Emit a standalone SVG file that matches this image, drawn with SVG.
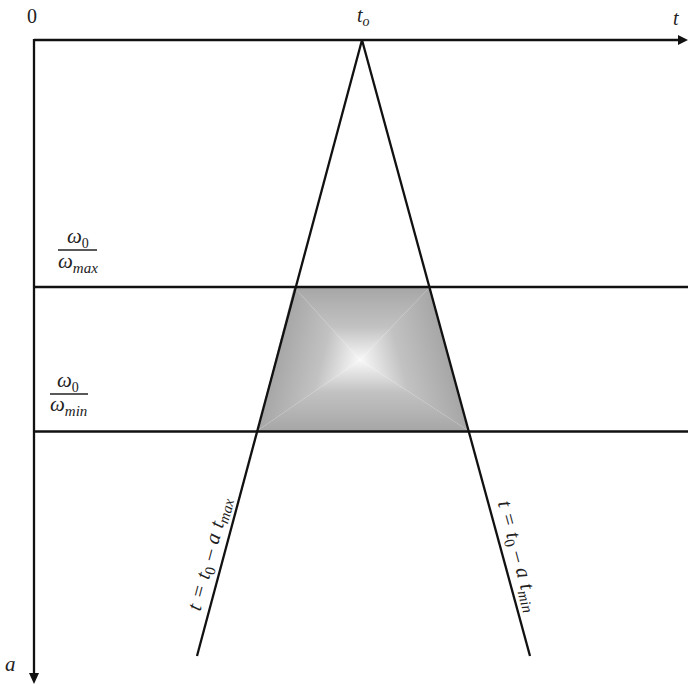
<svg xmlns="http://www.w3.org/2000/svg" width="688" height="684" viewBox="0 0 688 684">
<style>
.ln{stroke:#111;stroke-width:2.3;fill:none}
.tx{font-family:"Liberation Serif","Times New Roman",serif;fill:#222}
.it{font-style:italic}
</style>
<defs>
<linearGradient id="gT" gradientUnits="userSpaceOnUse" x1="360" y1="287" x2="360" y2="360"><stop offset="0" stop-color="#a6a6a6"/><stop offset="0.55" stop-color="#c2c2c2"/><stop offset="1" stop-color="#f8f8f8"/></linearGradient>
<linearGradient id="gB" gradientUnits="userSpaceOnUse" x1="360" y1="431" x2="360" y2="360"><stop offset="0" stop-color="#a6a6a6"/><stop offset="0.55" stop-color="#c2c2c2"/><stop offset="1" stop-color="#f8f8f8"/></linearGradient>
<linearGradient id="gL" gradientUnits="userSpaceOnUse" x1="280.5" y1="339.6" x2="360" y2="360"><stop offset="0" stop-color="#a6a6a6"/><stop offset="0.55" stop-color="#c2c2c2"/><stop offset="1" stop-color="#f8f8f8"/></linearGradient>
<linearGradient id="gR" gradientUnits="userSpaceOnUse" x1="443.6" y1="337.3" x2="360" y2="360"><stop offset="0" stop-color="#a6a6a6"/><stop offset="0.55" stop-color="#c2c2c2"/><stop offset="1" stop-color="#f8f8f8"/></linearGradient>
</defs>
<rect width="688" height="684" fill="#fff"/>
<g id="region">
<polygon points="294,287 430,287 360,360" fill="url(#gT)"/>
<polygon points="257,431 469,431 360,360" fill="url(#gB)"/>
<polygon points="294,287 257,431 360,360" fill="url(#gL)"/>
<polygon points="430,287 469,431 360,360" fill="url(#gR)"/>
</g>
<g id="connectors">
<line class="ln" x1="34" y1="40" x2="680" y2="40"/>
<polygon points="678,35 688,40 678,45" fill="#111"/>
<line class="ln" x1="34" y1="39" x2="34" y2="676"/>
<polygon points="29,673 39,673 34,684" fill="#111"/>
<line class="ln" x1="34" y1="287" x2="688" y2="287"/>
<line class="ln" x1="34" y1="431.5" x2="688" y2="431.5"/>
<line class="ln" x1="362" y1="40" x2="197" y2="656"/>
<line class="ln" x1="362" y1="40" x2="530" y2="656"/>
</g>
<g id="labels">
<text class="tx" x="27" y="23" font-size="20">0</text>
<text class="tx it" x="357" y="22" font-size="20">t<tspan font-size="14" dy="4">o</tspan></text>
<text class="tx it" x="673" y="25" font-size="20">t</text>
<text class="tx it" x="5" y="671" font-size="21">a</text>
<g id="frac-max">
<text class="tx it" x="67" y="243" font-size="21">ω<tspan font-style="normal" font-size="14" dy="5">0</tspan></text>
<line x1="58" y1="250" x2="97" y2="250" stroke="#222" stroke-width="1.3"/>
<text class="tx it" x="58" y="268" font-size="21">ω<tspan font-size="15" dy="5">max</tspan></text>
</g>
<g id="frac-min">
<text class="tx it" x="57" y="387" font-size="21">ω<tspan font-style="normal" font-size="14" dy="5">0</tspan></text>
<line x1="50" y1="394" x2="88" y2="394" stroke="#222" stroke-width="1.3"/>
<text class="tx it" x="50" y="411" font-size="21">ω<tspan font-size="15" dy="5">min</tspan></text>
</g>
<text class="tx it" transform="translate(209,614) rotate(-75)" x="0" y="-9" font-size="21" word-spacing="1">t = t<tspan font-style="normal" font-size="15" dy="4">0</tspan><tspan dy="-4"> – a t</tspan><tspan font-size="15" dy="4">max</tspan></text>
<text class="tx it" transform="translate(489,505) rotate(75)" x="0" y="-9" font-size="21" word-spacing="1">t = t<tspan font-style="normal" font-size="15" dy="4">0</tspan><tspan dy="-4"> – a t</tspan><tspan font-size="15" dy="4">min</tspan></text>
</g>
</svg>
